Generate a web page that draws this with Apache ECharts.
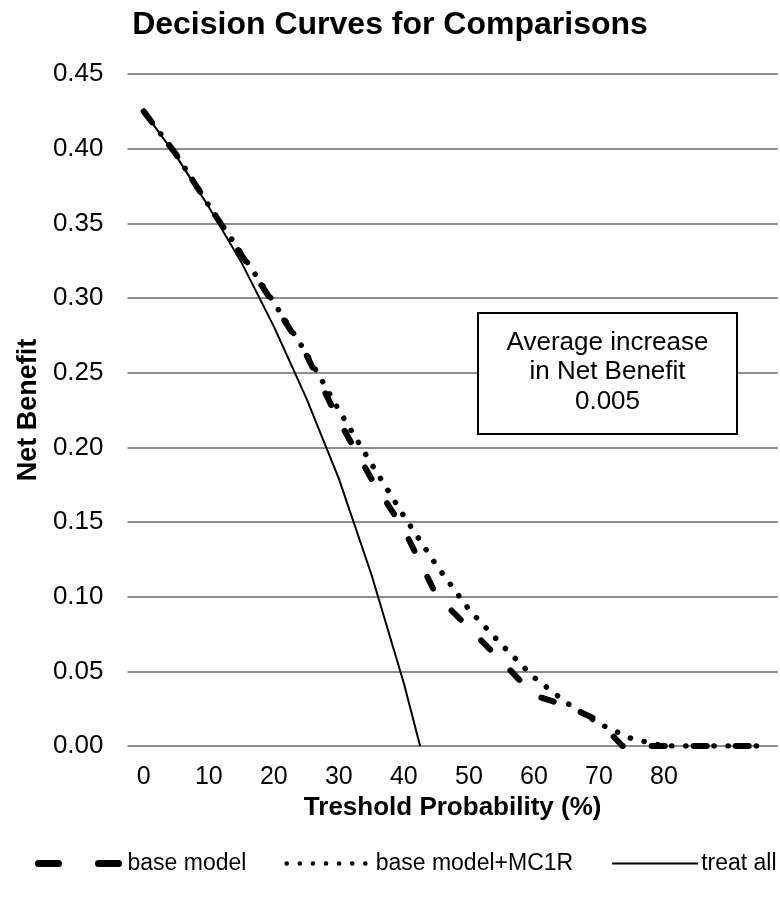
<!DOCTYPE html>
<html>
<head>
<meta charset="utf-8">
<script src="https://cdn.jsdelivr.net/npm/echarts@6/dist/echarts.min.js"></script>
<style>html,body{margin:0;padding:0;background:#fff;}#c{width:780px;height:901px;}</style>
</head>
<body>
<div id="c"></div>
<script>
// Threshold probability (%) and net benefit values
const baseModelX = [0, 5, 10, 15, 20, 25, 30, 35, 40, 45, 50, 55, 60, 65, 70, 73.6, 80, 85, 90, 95];
const baseModelY = [0.425, 0.396, 0.362, 0.329, 0.296, 0.262, 0.218, 0.179, 0.145, 0.101, 0.079, 0.057, 0.034, 0.027, 0.017, 0, 0, 0, 0, 0];
const mc1rX = [0, 5, 10, 15, 20, 25, 30, 35, 40, 45, 50, 55, 60, 65, 70, 75, 80, 85, 90, 95];
const mc1rY = [0.425, 0.396, 0.362, 0.330, 0.297, 0.263, 0.225, 0.189, 0.154, 0.121, 0.0915, 0.068, 0.046, 0.029, 0.015, 0.005, 0, 0, 0, 0];
const treatAllX = [0, 5, 10, 15, 20, 25, 30, 35, 40, 42.5];
const treatAllY = [0.425, 0.395, 0.361, 0.324, 0.281, 0.233, 0.179, 0.115, 0.042, 0];
const xTickLabels = [0, 10, 20, 30, 40, 50, 60, 70, 80];
const seriesNames = ['base model', 'base model+MC1R', 'treat all'];
const annotationLines = ['Average increase', 'in Net Benefit', '0.005'];

const pair = (xs, ys) => xs.map((x, i) => [x, ys[i]]);
const FONT = "'Liberation Sans', Arial, sans-serif";

const styles = [
  {color: '#000', width: 6, type: [13, 29], cap: 'round', join: 'round'},
  {color: '#000', width: 5.5, type: [0.1, 14], cap: 'round', join: 'round'},
  {color: '#000', width: 2, type: 'solid'}
];
const legendStyles = [
  {color: '#000', width: 7, type: [20, 40], cap: 'round'},
  {color: '#000', width: 4.5, type: [0.1, 13], cap: 'round'},
  {color: '#000', width: 2, type: 'solid'}
];

const chart = echarts.init(document.getElementById('c'), null, {renderer: 'canvas'});
chart.setOption({
  backgroundColor: '#ffffff',
  animation: false,
  title: {
    text: 'Decision Curves for Comparisons',
    left: 'center',
    top: 4,
    textStyle: {fontFamily: FONT, fontSize: 32, fontWeight: 'bold', color: '#000'}
  },
  legend: {
    bottom: 21,
    left: 30,
    width: 750,
    orient: 'horizontal',
    itemWidth: 86,
    itemHeight: 8,
    itemGap: 38,
    itemStyle: {color: 'rgba(0,0,0,0)', borderWidth: 0, opacity: 0},
    data: seriesNames.map((n, i) => ({name: n, lineStyle: legendStyles[i]})),
    textStyle: {fontFamily: FONT, fontSize: 23, color: '#000', padding: [0, 0, 0, -2]}
  },
  grid: {left: 127.5, right: 2.25, top: 74, bottom: 155, containLabel: false},
  xAxis: {
    type: 'value',
    min: -2.5,
    max: 97.5,
    name: 'Treshold Probability (%)',
    nameLocation: 'middle',
    nameGap: 37,
    nameTextStyle: {fontFamily: FONT, fontSize: 26, fontWeight: 'bold', color: '#000'},
    axisLine: {show: false},
    axisTick: {show: false},
    splitLine: {show: false},
    axisLabel: {
      customValues: xTickLabels,
      margin: 19,
      fontFamily: FONT, fontSize: 25, color: '#000'
    }
  },
  yAxis: {
    type: 'value',
    min: 0,
    max: 0.45,
    interval: 0.05,
    name: 'Net Benefit',
    nameLocation: 'middle',
    nameGap: 78,
    nameRotate: 90,
    nameTextStyle: {fontFamily: FONT, fontSize: 27, fontWeight: 'bold', color: '#000'},
    axisLine: {show: false},
    axisTick: {show: false},
    splitLine: {show: true, lineStyle: {color: '#8c8c8c', width: 2}},
    axisLabel: {
      margin: 24,
      formatter: v => v.toFixed(2),
      fontFamily: FONT, fontSize: 26, color: '#000'
    }
  },
  series: [
    {
      name: seriesNames[0],
      type: 'line',
      data: pair(baseModelX, baseModelY),
      symbol: 'none',
      z: 3,
      lineStyle: styles[0],
      itemStyle: {color: '#000'}
    },
    {
      name: seriesNames[1],
      type: 'line',
      data: pair(mc1rX, mc1rY),
      symbol: 'none',
      z: 2,
      lineStyle: styles[1],
      itemStyle: {color: '#000'}
    },
    {
      name: seriesNames[2],
      type: 'line',
      data: pair(treatAllX, treatAllY),
      symbol: 'none',
      z: 4,
      lineStyle: styles[2],
      itemStyle: {color: '#000'}
    }
  ],
  graphic: [
    {
      type: 'rect',
      z: 10,
      shape: {x: 478, y: 313, width: 259, height: 121},
      style: {fill: '#fff', stroke: '#000', lineWidth: 2}
    },
    {
      type: 'text',
      z: 11,
      x: 607.5,
      y: 372,
      style: {
        text: annotationLines.join('\n'),
        fontFamily: FONT,
        fontSize: 26,
        lineHeight: 29.5,
        fill: '#000',
        align: 'center',
        verticalAlign: 'middle'
      }
    }
  ]
});
</script>
</body>
</html>
